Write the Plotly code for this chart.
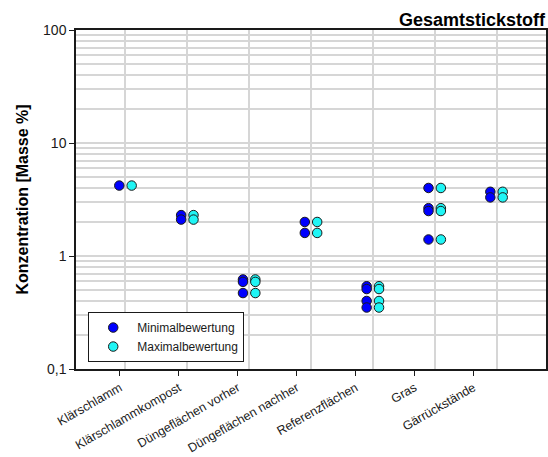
import plotly.graph_objects as go

# Categories on the x axis
categories = [
    "Klärschlamm",
    "Klärschlammkompost",
    "Düngeflächen vorher",
    "Düngeflächen nachher",
    "Referenzflächen",
    "Gras",
    "Gärrückstände",
]

# Total nitrogen concentration [mass %], minimum and maximum assessment
min_klaerschlamm = [4.2]
min_kompost = [2.3, 2.1]
min_vorher = [0.62, 0.59, 0.47]
min_nachher = [2.0, 1.6]
min_referenz = [0.54, 0.51, 0.40, 0.35]
min_gras = [4.0, 2.65, 2.5, 1.4]
min_gaerrest = [3.7, 3.3]

max_klaerschlamm = [4.2]
max_kompost = [2.3, 2.1]
max_vorher = [0.62, 0.59, 0.47]
max_nachher = [2.0, 1.6]
max_referenz = [0.54, 0.51, 0.40, 0.35]
max_gras = [4.0, 2.65, 2.5, 1.4]
max_gaerrest = [3.7, 3.3]

min_groups = [min_klaerschlamm, min_kompost, min_vorher, min_nachher,
              min_referenz, min_gras, min_gaerrest]
max_groups = [max_klaerschlamm, max_kompost, max_vorher, max_nachher,
              max_referenz, max_gras, max_gaerrest]

y_tick_vals = [0.1, 1, 10, 100]
y_tick_text = ["0,1", "1", "10", "100"]

FONT = "Liberation Sans, Arial, sans-serif"
OFFSET = 0.1  # horizontal shift of min / max markers around each category


def flatten(groups, shift):
    xs, ys = [], []
    for i, vals in enumerate(groups, start=1):
        for v in vals:
            xs.append(i + shift)
            ys.append(v)
    return xs, ys


x_min, y_min = flatten(min_groups, -OFFSET)
x_max, y_max = flatten(max_groups, OFFSET)

fig = go.Figure()
fig.add_trace(go.Scatter(
    x=x_min, y=y_min, mode="markers", name="Minimalbewertung",
    marker=dict(size=9.5, color="#0000ff", line=dict(color="#1a1a1a", width=1)),
))
fig.add_trace(go.Scatter(
    x=x_max, y=y_max, mode="markers", name="Maximalbewertung",
    marker=dict(size=9.5, color="#1ff5f5", line=dict(color="#1a1a1a", width=1)),
))

# category labels sit on their own evenly spaced ticks
label_pos = [0.91 + 0.953 * k for k in range(len(categories))]

minor_y = [m * 10 ** e for e in (-1, 0, 1) for m in range(2, 10)]

fig.update_layout(
    width=548, height=457,
    margin=dict(l=76, r=2, t=30, b=88),
    paper_bgcolor="white", plot_bgcolor="white",
    font=dict(family=FONT, size=12, color="#1a1a1a"),
    showlegend=True,
    legend=dict(
        x=0.026, y=0.168, xanchor="left", yanchor="top",
        bgcolor="white", bordercolor="#1a1a1a", borderwidth=1,
        itemwidth=38,
        font=dict(family=FONT, size=12, color="#1a1a1a"),
    ),
    title=dict(
        text="<b>Gesamtstickstoff</b>",
        x=0.998, xanchor="right", xref="paper",
        y=0.956, yanchor="middle", yref="container",
        font=dict(family=FONT, size=18, color="#000000"),
    ),
    xaxis=dict(
        range=[0.2, 7.8], automargin=False,
        tickmode="array", tickvals=label_pos, ticktext=categories,
        tickangle=-30, ticks="outside", ticklen=5, tickcolor="#1a1a1a",
        tickfont=dict(family=FONT, size=12.5, color="#1a1a1a"),
        showgrid=False, zeroline=False,
        showline=True, linecolor="#1a1a1a", linewidth=1.5, mirror=True,
        minor=dict(tickmode="array", tickvals=list(range(1, 8)), ticks="",
                   showgrid=True, gridcolor="#d6d6d6", gridwidth=1.5),
    ),
    yaxis=dict(
        type="log", range=[-1, 2], automargin=False,
        tickmode="array", tickvals=y_tick_vals, ticktext=y_tick_text,
        ticks="outside", ticklen=5, tickcolor="#1a1a1a",
        tickfont=dict(family=FONT, size=14, color="#1a1a1a"),
        showgrid=True, gridcolor="#d6d6d6", gridwidth=1.5,
        zeroline=False,
        showline=True, linecolor="#1a1a1a", linewidth=1.5, mirror=True,
        minor=dict(tickmode="array", tickvals=minor_y, ticks="",
                   showgrid=True, gridcolor="#d6d6d6", gridwidth=1.5),
        title=dict(text="<b>Konzentration [Masse %]</b>",
                   font=dict(family=FONT, size=16, color="#000000"),
                   standoff=10),
    ),
)

fig.write_html("out.html")
